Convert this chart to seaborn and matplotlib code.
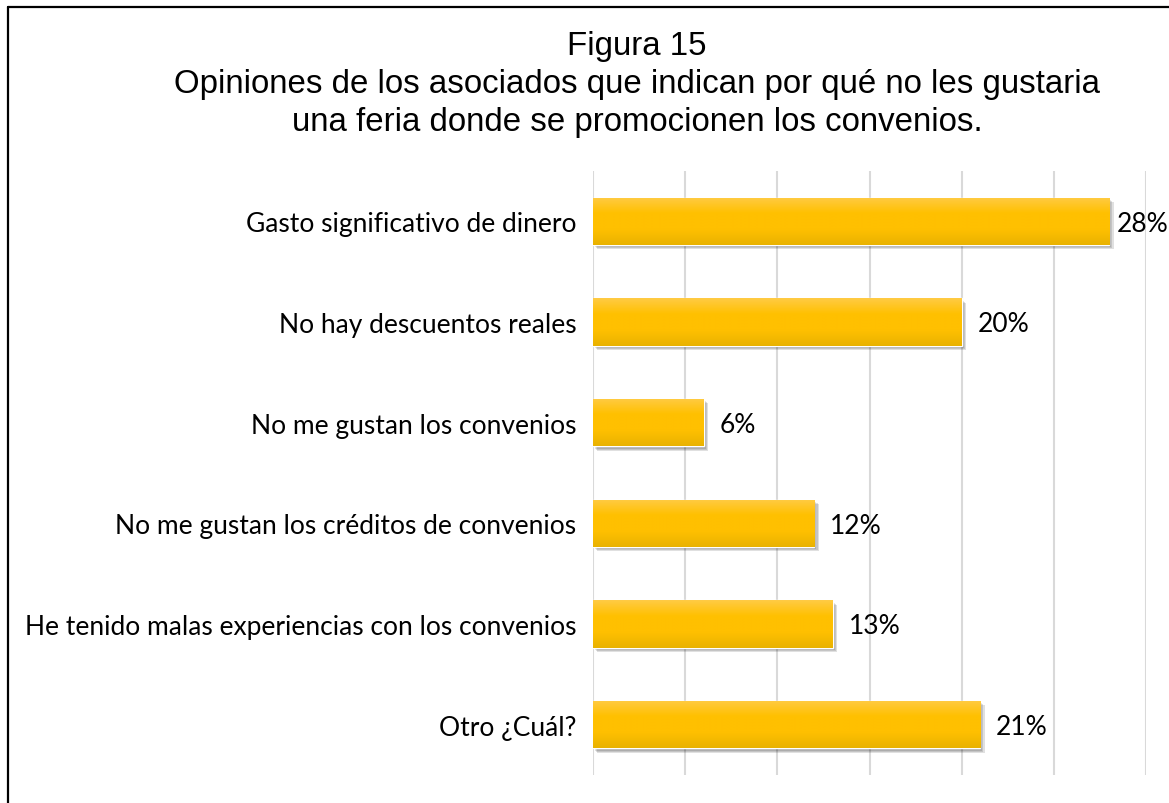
import numpy as np
import pandas as pd
import seaborn as sns
import matplotlib
matplotlib.use("Agg")
import matplotlib.pyplot as plt
from matplotlib import patheffects as pe
from matplotlib.colors import LinearSegmentedColormap
from matplotlib.lines import Line2D

# Survey answers and their shares (%)
categories = [
    "Gasto significativo de dinero",
    "No hay descuentos reales",
    "No me gustan los convenios",
    "No me gustan los créditos de convenios",
    "He tenido malas experiencias con los convenios",
    "Otro ¿Cuál?",
]
values = [28, 20, 6, 12, 13, 21]
value_labels = ["28%", "20%", "6%", "12%", "13%", "21%"]

title_lines = [
    "Figura 15",
    "Opiniones de los asociados que indican por qué no les gustaria",
    "una feria donde se promocionen los convenios.",
]

W, H = 1169, 804
sns.set_theme(style="white")
plt.rcParams["font.family"] = ["Lato", "DejaVu Sans"]

fig = plt.figure(figsize=(W / 100, H / 100), dpi=100)
fig.patch.set_facecolor("white")

# plot area in pixel coordinates
left, right, top, bottom = 593, 1146, 172, 776
ax = fig.add_axes([left / W, 1 - bottom / H, (right - left) / W, (bottom - top) / H])

df = pd.DataFrame({"respuesta": categories, "porcentaje": values})
sns.barplot(data=df, y="respuesta", x="porcentaje", orient="h",
            color="#FFC000", saturation=1, width=0.47, ax=ax)

ax.set_xlim(0, 30)
ax.set_ylim(5.5, -0.5)
ax.set_xticks(np.arange(0, 31, 5))
ax.xaxis.grid(True, color="#D9D9D9", lw=1.5)
ax.yaxis.grid(False)
ax.set_axisbelow(True)
ax.set_xticklabels([])
ax.tick_params(axis="x", length=0)
ax.tick_params(axis="y", length=0, pad=12, labelsize=19, labelcolor="black")
ax.set_xlabel("")
ax.set_ylabel("")
for s in ax.spines.values():
    s.set_visible(False)

# gold vertical gradient with a soft drop shadow
cmap = LinearSegmentedColormap.from_list(
    "gold", ["#FFCB45", "#FFC000", "#FFC000", "#E9B200"])
grad = np.linspace(0, 1, 256).reshape(-1, 1)
shadow = [pe.SimplePatchShadow(offset=(o, -o), shadow_rgbFace="black", alpha=0.12)
          for o in (0.8, 1.6, 2.4, 3.2)]
for patch in ax.patches:
    patch.set_path_effects(shadow + [pe.Normal()])
    x0, y0 = patch.get_x(), patch.get_y()
    w, h = patch.get_width(), patch.get_height()
    im = ax.imshow(grad, extent=(x0, x0 + w, y0 + h, y0), aspect="auto",
                   cmap=cmap, origin="upper", zorder=patch.get_zorder() + 0.5,
                   interpolation="bilinear")
    im.set_clip_path(patch)

ax.set_xlim(0, 30)
ax.set_ylim(5.5, -0.5)

# value labels to the right of each bar, kept inside the figure
texts = []
for i, (v, lab) in enumerate(zip(values, value_labels)):
    t = ax.annotate(lab, (v, i), xytext=(16, -2), textcoords="offset pixels",
                    va="center", ha="left", fontsize=19, color="black")
    texts.append(t)
fig.canvas.draw()
renderer = fig.canvas.get_renderer()
for t in texts:
    bb = t.get_window_extent(renderer)
    over = bb.x1 - (W - 1)
    if over > 0:
        t.xyann = (16 - over, -2)

# title
for y, line in zip((47, 85, 123), title_lines):
    fig.text(637 / W, 1 - y / H, line, ha="center", va="center",
             fontsize=23.8, family=["Liberation Sans", "DejaVu Sans"], color="black")

# frame edges
fig.add_artist(Line2D([7.5 / W, 7.5 / W], [0, 1 - 7.5 / H], transform=fig.transFigure,
                      color="black", lw=1.6))
fig.add_artist(Line2D([7.5 / W, 1], [1 - 7.5 / H, 1 - 7.5 / H], transform=fig.transFigure,
                      color="black", lw=1.6))

fig.savefig("out.png", dpi=100)
